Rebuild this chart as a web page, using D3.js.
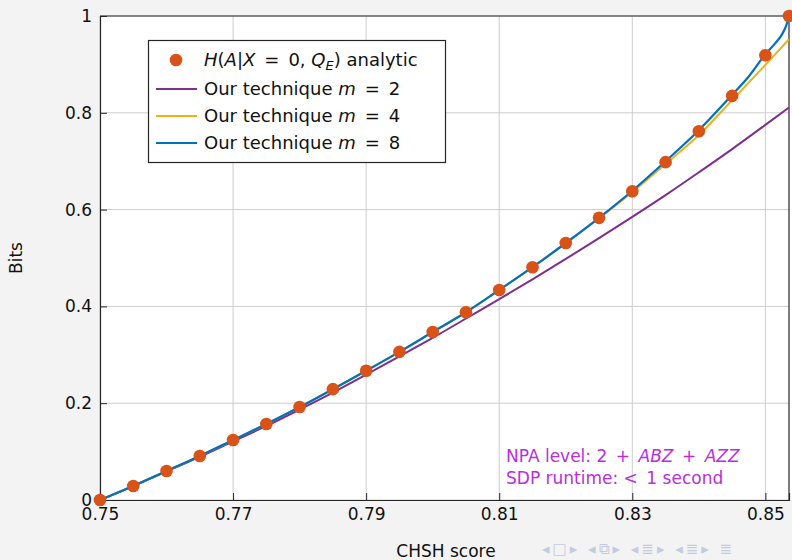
<!DOCTYPE html>
<html><head><meta charset="utf-8">
<script src="https://cdn.jsdelivr.net/npm/d3@7"></script>
<style>
html,body{margin:0;padding:0;background:#f3f3f3;}
svg{display:block;font-family:"DejaVu Sans",sans-serif;}
</style></head><body>
<svg id="c" width="792" height="560"></svg>
<script>
// ---- data ----
const xTicks = [0.75, 0.77, 0.79, 0.81, 0.83, 0.85];
const yTicks = [0, 0.2, 0.4, 0.6, 0.8, 1];
const analyticX = [0.75,0.755,0.76,0.765,0.77,0.775,0.78,0.785,0.79,0.795,0.80,0.805,0.81,0.815,0.82,0.825,0.83,0.835,0.84,0.845,0.85,0.85355];
const analyticY = [0,0.029,0.060,0.091,0.124,0.157,0.192,0.229,0.267,0.306,0.347,0.388,0.434,0.481,0.531,0.583,0.638,0.698,0.762,0.835,0.919,1.0];
const m2X = [0.75,0.755,0.76,0.765,0.77,0.775,0.78,0.785,0.79,0.795,0.80,0.805,0.81,0.815,0.82,0.825,0.83,0.835,0.84,0.845,0.85,0.85355];
const m2Y = [0,0.029,0.059,0.089,0.121,0.153,0.187,0.222,0.259,0.297,0.335,0.375,0.415,0.456,0.498,0.541,0.585,0.630,0.677,0.725,0.775,0.811];
const m4X = [0.75,0.755,0.76,0.765,0.77,0.775,0.78,0.785,0.79,0.795,0.80,0.805,0.81,0.815,0.82,0.825,0.83,0.835,0.84,0.845,0.85,0.85355];
const m4Y = [0,0.029,0.060,0.091,0.124,0.157,0.192,0.229,0.267,0.306,0.347,0.388,0.434,0.481,0.530,0.582,0.636,0.694,0.754,0.826,0.899,0.952];
const m8X = [0.75,0.755,0.76,0.765,0.77,0.775,0.78,0.785,0.79,0.795,0.80,0.805,0.81,0.815,0.82,0.825,0.83,0.835,0.84,0.845,0.8475,0.85,0.8515,0.8525,0.8531,0.85355];
const m8Y = [0,0.029,0.060,0.091,0.124,0.157,0.192,0.229,0.267,0.306,0.347,0.388,0.434,0.481,0.531,0.583,0.639,0.700,0.764,0.837,0.875,0.921,0.944,0.962,0.979,1.0];
const legendLabels = ["analytic", "Our technique ", "Our technique ", "Our technique "];
const mValues = ["2", "4", "8"];
const colors = {analytic:"#D95319", m2:"#7E2F8E", m4:"#EDB120", m8:"#0072BD"};

// ---- layout ----
const svg = d3.select("#c");
const L = 100, R = 789, T = 16, B = 500;
const x = d3.scaleLinear().domain([0.75, 0.85355]).range([L, R]);
const y = d3.scaleLinear().domain([0, 1]).range([B, T]);

svg.append("rect").attr("x", L).attr("y", T).attr("width", 792 - L).attr("height", B - T).attr("fill", "#fff");

// grid
const g = svg.append("g");
g.selectAll(".gx").data(xTicks).enter().append("line")
  .attr("x1", d => x(d)).attr("x2", d => x(d)).attr("y1", T).attr("y2", B)
  .attr("stroke", "#cdcdcd").attr("stroke-width", 1);
g.selectAll(".gy").data(yTicks).enter().append("line")
  .attr("x1", L).attr("x2", R).attr("y1", d => y(d)).attr("y2", d => y(d))
  .attr("stroke", "#cdcdcd").attr("stroke-width", 1);

// axes
const xAxis = d3.axisBottom(x).tickValues(xTicks).tickSize(-7).tickPadding(11).tickFormat(d3.format(".2f"));
const yAxis = d3.axisLeft(y).tickValues(yTicks).tickSize(-7).tickPadding(8).tickFormat(d => d === 0 ? "0" : d === 1 ? "1" : d3.format(".1f")(d));
const gx = svg.append("g").attr("transform", `translate(0,${B})`).call(xAxis);
const gy = svg.append("g").attr("transform", `translate(${L},0)`).call(yAxis);
[gx, gy].forEach(a => {
  a.select(".domain").attr("stroke", "#262626").attr("stroke-width", 1.2);
  a.selectAll(".tick line").attr("stroke", "#262626");
  a.selectAll(".tick text").attr("fill", "#111").style("font-size", "17px").style("font-family", "'DejaVu Sans',sans-serif");
});
gx.selectAll(".tick text").attr("dy", "0.55em");
// top & right frame
svg.append("line").attr("x1", L).attr("x2", R).attr("y1", T).attr("y2", T).attr("stroke", "#262626").attr("stroke-width", 1.2);
svg.append("line").attr("x1", R).attr("x2", R).attr("y1", T).attr("y2", B).attr("stroke", "#262626").attr("stroke-width", 1.2);

// lines
const line = d3.line().x(d => x(d[0])).y(d => y(d[1])).curve(d3.curveMonotoneX);
const series = [
  {xs: m2X, ys: m2Y, c: colors.m2, w: 2},
  {xs: m4X, ys: m4Y, c: colors.m4, w: 2},
  {xs: m8X, ys: m8Y, c: colors.m8, w: 2.2}
];
series.forEach(s => {
  svg.append("path").datum(d3.zip(s.xs, s.ys)).attr("d", line)
    .attr("fill", "none").attr("stroke", s.c).attr("stroke-width", s.w);
});
// points
svg.append("g").selectAll("circle").data(d3.zip(analyticX, analyticY)).enter().append("circle")
  .attr("cx", d => x(d[0])).attr("cy", d => y(d[1])).attr("r", 6.3).attr("fill", colors.analytic);

// axis labels
svg.append("text").attr("x", 446).attr("y", 557).attr("text-anchor", "middle")
  .style("font-size", "17px").attr("fill", "#111").text("CHSH score");
svg.append("text").attr("transform", "translate(22,258) rotate(-90)").attr("text-anchor", "middle")
  .style("font-size", "17px").attr("fill", "#111").text("Bits");

// legend
const lg = svg.append("g");
lg.append("rect").attr("x", 148.5).attr("y", 40.5).attr("width", 297).attr("height", 122)
  .attr("fill", "#fff").attr("stroke", "#262626").attr("stroke-width", 1.2);
const rowsY = [60, 89, 116, 143];
const it = sel => sel.style("font-style", "italic");
const sp = "\u2002";
lg.append("circle").attr("cx", 176).attr("cy", rowsY[0]).attr("r", 6.3).attr("fill", colors.analytic);
const t0 = lg.append("text").attr("x", 204).attr("y", rowsY[0]).attr("dy", "0.36em").style("font-size", "18px").attr("fill", "#111");
it(t0.append("tspan")).text("H");
t0.append("tspan").text("(");
it(t0.append("tspan")).text("A");
t0.append("tspan").text("|");
it(t0.append("tspan")).text("X");
t0.append("tspan").text(sp + "=" + sp + "0, ");
it(t0.append("tspan")).text("Q");
it(t0.append("tspan")).style("font-size", "13px").attr("dy", "0.3em").text("E");
t0.append("tspan").attr("dy", "-0.22em").text(") " + legendLabels[0]);
const lineCols = [colors.m2, colors.m4, colors.m8];
for (let i = 0; i < 3; i++) {
  const yy = rowsY[i + 1];
  lg.append("line").attr("x1", 156).attr("x2", 197).attr("y1", yy).attr("y2", yy)
    .attr("stroke", lineCols[i]).attr("stroke-width", 2);
  const t = lg.append("text").attr("x", 204).attr("y", yy).attr("dy", "0.36em").style("font-size", "18px").attr("fill", "#111");
  t.append("tspan").text(legendLabels[i + 1]);
  it(t.append("tspan")).text("m");
  t.append("tspan").text(sp + "=" + sp + mValues[i]);
}

// annotation
const ann = svg.append("g").style("font-size", "17px").attr("fill", "#b82ee0");
const a1 = ann.append("text").attr("x", 506).attr("y", 456).attr("dy", "0.36em");
a1.append("tspan").text("NPA level:  2" + sp + "+" + sp);
it(a1.append("tspan")).text("ABZ");
a1.append("tspan").text(sp + "+" + sp);
it(a1.append("tspan")).text("AZZ");
const a2 = ann.append("text").attr("x", 506).attr("y", 478).attr("dy", "0.36em");
a2.append("tspan").text("SDP runtime:  <" + sp + "1 second");

// beamer navigation symbols
svg.append("text").attr("x", 542).attr("y", 549).attr("dy", "0.36em").style("font-size", "15px")
  .style("letter-spacing", "3px").attr("fill", "#c3cbe0").text("◂□▸ ◂⧉▸ ◂≣▸ ◂≣▸ ≣");
</script>
</body></html>
